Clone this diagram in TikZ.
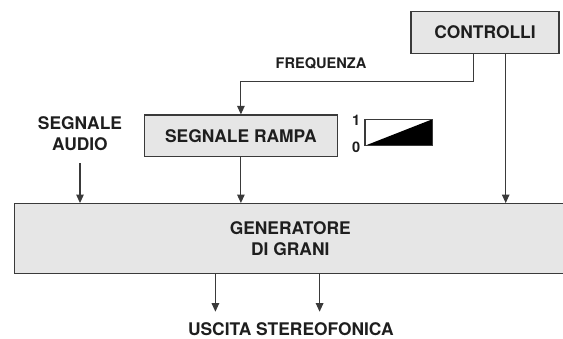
\documentclass[tikz,border=0pt]{standalone}
\usepackage{fontspec}
\setmainfont{TeX Gyre Heros}
\usetikzlibrary{arrows.meta}
\definecolor{boxfill}{HTML}{E6E6E6}
\definecolor{linecol}{HTML}{3A3A3A}
\definecolor{txtcol}{HTML}{1E1E1E}
\tikzset{
  blockbox/.style={draw=linecol, line width=1.1pt, fill=boxfill, inner sep=0pt, text=txtcol,
    font=\fontsize{17.4}{21}\selectfont\bfseries, align=center},
  lbl/.style={inner sep=0pt, text=txtcol, font=\fontsize{17.4}{21}\selectfont\bfseries, align=center},
  smalllbl/.style={inner sep=0pt, text=txtcol, font=\fontsize{14.6}{17}\selectfont\bfseries},
  arr/.style={draw=linecol, line width=1.1pt, -{Triangle[length=8.5pt,width=7.5pt]}},
  conn/.style={draw=linecol, line width=1.1pt}
}
\begin{document}
\begin{tikzpicture}[x=1pt,y=-1pt]
\useasboundingbox (0,0) rectangle (563,338);
\clip (0,0) rectangle (563,338);
% boxes
\node[blockbox, minimum width=148pt, minimum height=41.6pt] (ctrl) at (485,32.5) {CONTROLLI};
\node[blockbox, minimum width=193.2pt, minimum height=41.7pt] (rampa) at (240.9,135.8) {SEGNALE RAMPA};
\node[blockbox, minimum width=552pt, minimum height=69.8pt] (gen) at (290.3,238.5) {GENERATORE\\DI GRANI};
% labels
\node[smalllbl] (freq) at (321,63.3) {FREQUENZA};
\node[lbl] (audio) at (80,134) {SEGNALE\\AUDIO};
\node[lbl] (out) at (290.8,329) {USCITA STEREOFONICA};
% ramp icon
\node[smalllbl] (one) at (356.3,120.7) {1};
\node[smalllbl] (zero) at (356.3,146.8) {0};
\coordinate (rbl) at (365,145.7);
\coordinate (rtr) at (432.3,119.3);
\fill[black] (rbl) -- (rtr) -- (rtr |- rbl) -- cycle;
\draw[draw=linecol, line width=1.1pt] (rbl) rectangle (rtr);
% connectors
\coordinate (f1) at (473.3,81.7);
\coordinate (c2) at (505.7,0);
\coordinate (a0) at (80,163.3);
\coordinate (o1) at (215.4,311.7);
\coordinate (o2) at (319.6,311.7);
\draw[arr] (ctrl.south -| f1) -- (f1) -| (rampa.north);
\draw[arr] (ctrl.south -| c2) -- (c2 |- gen.north);
\draw[arr] (a0) -- (a0 |- gen.north);
\draw[arr] (rampa.south) -- (rampa.south |- gen.north);
\draw[arr] (o1 |- gen.south) -- (o1);
\draw[arr] (o2 |- gen.south) -- (o2);
\end{tikzpicture}
\end{document}
